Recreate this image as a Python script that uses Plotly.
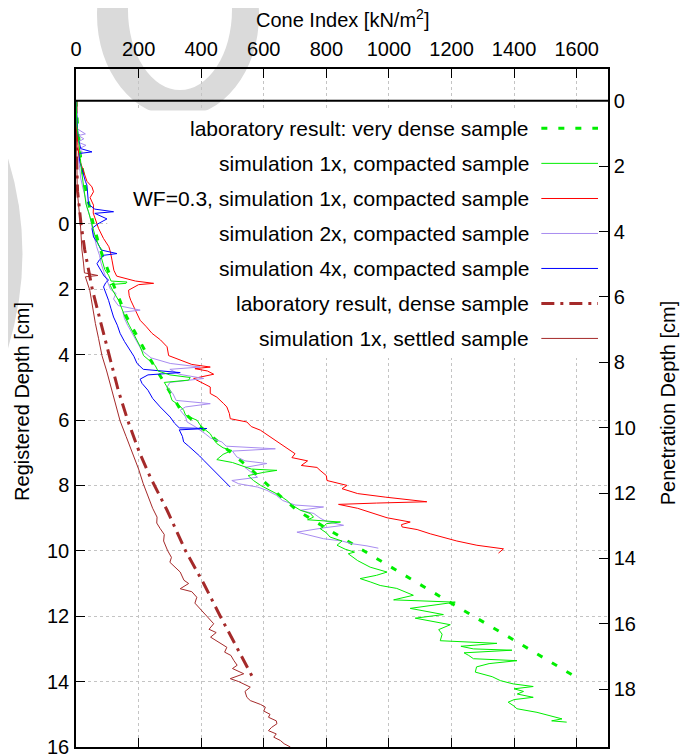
import plotly.graph_objects as go

# ---------------- data (registered depth [cm], cone index [kN/m2]) ----------------
LAB_VDENSE_DEPTH = [-3.77, -3.0, -2.0, -1.0, 0.0, 0.8, 1.8, 2.85, 3.87, 4.88, 5.7, 6.31, 6.93,
                    7.54, 8.15, 8.76, 9.37, 9.89, 10.4, 11.52, 12.54, 13.94]
LAB_VDENSE_CI = [0, 5, 15, 32, 55, 78, 117, 162, 220, 282, 335, 410, 487,
                 563, 631, 706, 810, 900, 990, 1185, 1366, 1611]

SIM1X_DEPTH = [-3.77, -3.4, -3.0, -2.6, -2.3, -2.0, -1.6, -1.3, -0.9, -0.6, -0.37, -0.1, 0.14, 0.4,
               0.65, 0.8, 1.0, 1.22, 1.4, 1.57, 1.75, 1.78, 1.82, 1.86, 2.05, 2.34, 2.6, 2.85, 3.1,
               3.46, 3.75, 4.03, 4.2, 4.33, 4.5, 4.62, 4.7, 4.78, 4.85, 4.99, 5.2, 5.4, 5.55, 5.7,
               5.85, 6.01, 6.2, 6.42, 6.6, 6.72, 6.85, 6.93, 7.05, 7.21, 7.3, 7.39, 7.5, 7.54, 7.6,
               7.7, 7.85, 8.0, 8.15, 8.3, 8.46, 8.6, 8.76, 8.86, 8.97, 9.05, 9.12, 9.17, 9.27, 9.32,
               9.45, 9.58, 9.7, 9.83, 9.95, 10.04, 10.09, 10.3, 10.5, 10.65, 10.75, 10.85, 10.95,
               11.06, 11.15, 11.36, 11.5, 11.57, 11.76, 11.85, 11.95, 12.06, 12.15, 12.26, 12.41,
               12.55, 12.75, 12.83, 12.92, 13.0, 13.04, 13.12, 13.2, 13.3, 13.36, 13.45, 13.55,
               13.71, 13.85, 13.97, 14.07, 14.15, 14.22, 14.3, 14.38, 14.48, 14.55, 14.63, 14.75,
               14.83, 14.94, 15.04, 15.14, 15.2, 15.24]
SIM1X_CI = [0, 1, 3, 8, 12, 14, 18, 22, 26, 32, 40, 48, 56, 62,
            72, 83, 80, 88, 92, 104, 112, 163, 160, 108, 118, 136, 146, 157, 170,
            189, 205, 216, 238, 253, 262, 300, 365, 360, 282, 291, 300, 307, 330, 344,
            350, 387, 400, 429, 440, 450, 470, 498, 470, 450, 500, 525, 560, 642, 600,
            550, 567, 590, 621, 650, 674, 690, 717, 749, 759, 740, 845, 800, 791, 780,
            800, 812, 850, 834, 860, 890, 870, 900, 940, 994, 960, 908, 940,
            972, 1025, 1078, 1015, 1212, 1068, 1120, 1174, 1084, 1130, 1196, 1159,
            1170, 1164, 1345, 1230, 1270, 1393, 1240, 1255, 1270, 1409, 1320, 1280,
            1276, 1330, 1356, 1397, 1461, 1400, 1430, 1410, 1461, 1400, 1381, 1400,
            1409, 1473, 1510, 1553, 1520, 1568]

WF03_DEPTH = [-3.77, -3.2, -2.8, -2.4, -2.0, -1.6, -1.3, -1.13, -0.98, -0.8, -0.57, -0.33, -0.17,
              0.0, 0.14, 0.45, 0.7, 0.86, 1.11, 1.42, 1.6, 1.75, 1.82, 1.86, 2.03, 2.2, 2.34, 2.64,
              2.95, 3.15, 3.35, 3.55, 3.76, 4.03, 4.17, 4.3, 4.38, 4.43, 4.5, 4.6, 4.73, 4.85, 4.99,
              5.19, 5.3, 5.5, 5.6, 5.8, 5.96, 6.06, 6.2, 6.31, 6.52, 6.77, 6.9, 7.03, 7.15, 7.25,
              7.39, 7.45, 7.54, 7.7, 7.85, 8.0, 8.1, 8.25, 8.36, 8.45, 8.5, 8.54, 8.58, 8.7, 8.76,
              8.85, 8.99, 9.12, 9.2, 9.27, 9.35, 9.48, 9.63, 9.7, 9.83, 9.94, 10.07]
WF03_CI = [0, 2, 5, 6, 10, 24, 35, 51, 56, 45, 56, 55, 62,
           67, 72, 88, 105, 110, 115, 121, 130, 190, 248, 200, 168, 170, 175, 189,
           205, 225, 243, 270, 291, 296, 333, 370, 429, 380, 420, 440, 376, 400, 429,
           429, 450, 472, 482, 490, 493, 546, 560, 589, 621, 658, 680, 700, 690, 740,
           720, 770, 780, 800, 802, 866, 850, 900, 990, 1080, 1121, 960, 839, 900, 919,
           950, 994, 1068, 1040, 1042, 1090, 1132, 1185, 1217, 1281, 1366, 1350]

SIM2X_DEPTH = [-3.77, -3.2, -2.9, -2.75, -2.7, -2.6, -2.5, -2.4, -2.3, -2.2, -2.0, -1.7, -1.4,
               -1.1, -0.8, -0.5, -0.2, 0.14, 0.4, 0.7, 0.96, 1.2, 1.5, 1.75, 2.0, 2.13, 2.3, 2.5,
               2.64, 2.7, 2.9, 3.1, 3.35, 3.6, 3.87, 4.1, 4.27, 4.38, 4.45, 4.6, 4.73, 4.85, 5.0,
               5.2, 5.4, 5.5, 5.6, 5.7, 5.9, 6.06, 6.2, 6.42, 6.55, 6.67, 6.8, 6.88, 6.95, 7.13,
               7.25, 7.33, 7.45, 7.6, 7.75, 7.85, 7.95, 8.05, 8.15, 8.3, 8.46, 8.6, 8.66, 8.76,
               8.86, 9.0, 9.1, 9.22, 9.3, 9.43, 9.55, 9.63, 9.7, 9.78, 9.85, 9.92]
SIM2X_CI = [0, 2, 5, 30, 8, 25, 6, 32, 10, 20, 8, 12, 15,
            22, 30, 35, 45, 52, 58, 66, 75, 80, 90, 100, 110, 128, 120, 135,
            205, 150, 155, 165, 180, 195, 210, 240, 301, 397, 300, 330, 408, 300, 291,
            310, 320, 429, 350, 333, 350, 355, 380, 413, 430, 466, 480, 637, 500, 514,
            540, 610, 540, 560, 580, 498, 520, 580, 610, 640, 660, 700, 791, 717,
            760, 780, 800, 855, 790, 706, 760, 791, 850, 880, 930, 966]

SIM4X_DEPTH = [-3.77, -3.3, -2.9, -2.6, -2.3, -2.2, -2.15, -1.9, -1.6, -1.3, -1.18, -0.9, -0.6,
               -0.45, -0.37, -0.32, -0.15, 0.0, 0.14, 0.4, 0.6, 0.8, 0.91, 0.96, 1.1, 1.22, 1.42,
               1.6, 1.72, 1.8, 1.93, 2.1, 2.34, 2.6, 2.85, 3.1, 3.35, 3.6, 3.87, 4.05, 4.27, 4.45,
               4.55, 4.62, 4.75, 4.88, 5.09, 5.34, 5.6, 5.75, 5.91, 6.1, 6.24, 6.26, 6.3, 6.5, 6.67,
               6.8, 6.93, 7.1, 7.23, 7.4, 7.54, 7.65, 7.74, 7.85, 7.95, 8.05]
SIM4X_CI = [0, 2, 5, 8, 15, 51, 10, 12, 20, 30, 35, 38, 40,
            60, 120, 60, 99, 70, 51, 56, 70, 80, 131, 90, 75, 67, 80,
            90, 104, 95, 88, 95, 104, 112, 120, 132, 141, 155, 173, 185, 195, 215,
            333, 230, 205, 211, 230, 245, 269, 285, 301, 315, 330, 418, 330, 340, 344,
            360, 376, 395, 408, 425, 440, 450, 461, 470, 482, 493]

LAB_DENSE_DEPTH = [-3.77, -3.0, -2.0, -1.0, 0.0, 0.8, 2.0, 3.05, 4.03, 5.09, 6.03, 7.0, 7.74,
                   8.76, 10.0, 11.0, 12.0, 13.05, 13.97]
LAB_DENSE_CI = [0, 0.5, 2, 5, 16, 28, 52, 80, 106, 135, 166, 203, 237,
                291, 350, 408, 461, 520, 570]

SETTLED_DEPTH = [-3.77, -3.0, -2.0, -1.0, 0.0, 0.8, 1.2, 1.5, 1.58, 1.62, 2.03, 2.5, 3.05, 3.5,
                 4.03, 4.5, 5.09, 5.5, 6.03, 6.5, 7.0, 7.5, 7.95, 8.46, 8.7, 8.97, 9.15, 9.32,
                 9.5, 9.7, 10.0, 10.2, 10.35, 10.65, 10.9, 11.0, 11.16, 11.25, 11.42, 11.6,
                 11.82, 12.0, 12.23, 12.4, 12.5, 12.64, 12.8, 12.95, 13.1, 13.2, 13.35, 13.5,
                 13.6, 13.76, 13.91, 14.0, 14.17, 14.3, 14.48, 14.58, 14.7, 14.78, 14.9, 15.0,
                 15.09, 15.2, 15.29, 15.4, 15.5, 15.6, 15.7, 15.8, 15.9, 16.0]
SETTLED_CI = [0, 0.5, 2, 4, 14, 19, 24, 27, 70, 30, 44, 52, 62, 72,
              83, 98, 115, 125, 141, 160, 180, 200, 215, 235, 245, 259, 258, 269,
              282, 280, 293, 305, 300, 333, 345, 360, 333, 370, 386, 380,
              402, 420, 440, 425, 448, 430, 455, 482, 475, 495, 504, 515,
              500, 536, 493, 520, 557, 540, 546, 557, 590, 605, 600, 620,
              615, 640, 642, 625, 615, 640, 632, 653, 665, 685]

X_TICKS = [0, 200, 400, 600, 800, 1000, 1200, 1400, 1600]
REG_TICKS = [0, 2, 4, 6, 8, 10, 12, 14, 16]
PEN_TICKS = [0, 2, 4, 6, 8, 10, 12, 14, 16, 18]
X_RANGE = [0, 1700]
DEPTH_OFFSET = 3.765           # penetration depth - registered depth
REG_RANGE = [16, -4.735]
PEN_RANGE = [REG_RANGE[0] + DEPTH_OFFSET, REG_RANGE[1] + DEPTH_OFFSET]

LEGEND_LABELS = ["laboratory result: very dense sample",
                 "simulation 1x, compacted sample",
                 "WF=0.3, simulation 1x, compacted sample",
                 "simulation 2x, compacted sample",
                 "simulation 4x, compacted sample",
                 "laboratory result, dense sample",
                 "simulation 1x, settled sample"]

GREEN = "#00ee00"
RED = "#ff0000"
PURPLE = "#a88cf0"
BLUE = "#0000ff"
BROWN = "#a52a2a"
FONT = "Liberation Sans, Arial, sans-serif"

series = [
    (LAB_VDENSE_DEPTH, LAB_VDENSE_CI, dict(color=GREEN, width=3, dash="6px,11px")),
    (SETTLED_DEPTH, SETTLED_CI, dict(color=BROWN, width=1)),
    (LAB_DENSE_DEPTH, LAB_DENSE_CI, dict(color=BROWN, width=3, dash="13px,6px,3px,6px")),
    (WF03_DEPTH, WF03_CI, dict(color=RED, width=1)),
    (SIM2X_DEPTH, SIM2X_CI, dict(color=PURPLE, width=1)),
    (SIM4X_DEPTH, SIM4X_CI, dict(color=BLUE, width=1)),
    (SIM1X_DEPTH, SIM1X_CI, dict(color=GREEN, width=1)),
]
legend_styles = [
    dict(color=GREEN, width=3, dash="6px,11px"),
    dict(color=GREEN, width=1),
    dict(color=RED, width=1),
    dict(color=PURPLE, width=1),
    dict(color=BLUE, width=1),
    dict(color=BROWN, width=3, dash="13px,6px,3px,6px"),
    dict(color=BROWN, width=1),
]

fig = go.Figure()
for d, v, ln in series:
    fig.add_trace(go.Scatter(x=v, y=d, mode="lines", line=ln, yaxis="y",
                             showlegend=False, hoverinfo="skip"))

# penetration depth zero line (on the right axis)
fig.add_trace(go.Scatter(x=X_RANGE, y=[0, 0], mode="lines", yaxis="y2",
                         line=dict(color="black", width=2), showlegend=False, hoverinfo="skip"))

shapes = []
# watermark fragments (light grey)
shapes.append(dict(type="circle", xref="paper", yref="paper", layer="below",
                   x0=0.0395, x1=0.344, y0=0.929, y1=1.230,
                   fillcolor="#dadada", line=dict(width=0)))
shapes.append(dict(type="circle", xref="paper", yref="paper", layer="below",
                   x0=0.0977, x1=0.2932, y0=0.969, y1=1.205,
                   fillcolor="white", line=dict(width=0)))
shapes.append(dict(type="path", xref="paper", yref="paper", layer="below",
                   path="M -0.1429,0.9027 Q -0.0583,0.7286 -0.1429,0.5531 Z",
                   fillcolor="#dadada", line=dict(width=0)))
# opaque key box (hides grid, under data)
shapes.append(dict(type="rect", xref="x", yref="y", layer="between",
                   x0=100, x1=X_RANGE[1], y0=-3.765 + 0.3, y1=4.1,
                   fillcolor="white", line=dict(width=0)))

annotations = []
row_pen = [0.845, 1.916, 2.99, 4.06, 5.13, 6.2, 7.27]
for lab, st, yp in zip(LEGEND_LABELS, legend_styles, row_pen):
    annotations.append(dict(text=lab, xref="paper", yref="y2", x=0.855, y=yp,
                            xanchor="right", yanchor="middle", showarrow=False,
                            font=dict(family=FONT, size=21, color="black")))
    shapes.append(dict(type="line", xref="x", yref="y2", x0=1487, x1=1668, y0=yp, y1=yp,
                       line=st, layer="above"))

annotations.append(dict(text="Cone Index [kN/m<sup>2</sup>]", xref="paper", yref="paper",
                        x=0.5, y=1.0752, xanchor="center", yanchor="middle", showarrow=False,
                        font=dict(family=FONT, size=20, color="black")))
annotations.append(dict(text="Registered Depth [cm]", xref="paper", yref="paper",
                        x=-0.1015, y=0.509, xanchor="center", yanchor="middle", showarrow=False,
                        textangle=-90, font=dict(family=FONT, size=20, color="black")))
annotations.append(dict(text="Penetration Depth [cm]", xref="paper", yref="paper",
                        x=1.1128, y=0.507, xanchor="center", yanchor="middle", showarrow=False,
                        textangle=-90, font=dict(family=FONT, size=20, color="black")))

grid = dict(showgrid=True, gridcolor="#c4c4c4", griddash="dot", gridwidth=1)
common = dict(ticks="inside", ticklen=9, tickcolor="black", showline=True, linecolor="black",
              linewidth=1.5, zeroline=False, automargin=False, ticklabeloverflow="allow",
              tickfont=dict(family=FONT, size=20, color="black"))
# the page body adds an 8px offset, so the figure is 8px smaller and margins shifted
fig.update_layout(
    width=683, height=746,
    margin=dict(l=68, r=83, t=61, b=7, autoexpand=False),
    plot_bgcolor="white", paper_bgcolor="white",
    showlegend=False,
    font=dict(family=FONT, size=20, color="black"),
    xaxis=dict(side="top", range=X_RANGE, tickvals=X_TICKS, mirror="ticks",
               ticklabelstandoff=3, **grid, **common),
    yaxis=dict(range=REG_RANGE, tickvals=REG_TICKS, mirror=False,
               ticklabelstandoff=1, **grid, **common),
    yaxis2=dict(range=PEN_RANGE, tickvals=PEN_TICKS, overlaying="y", side="right",
                showgrid=False, ticklabelstandoff=0, **common),
    shapes=shapes,
    annotations=annotations,
)

fig.write_html("out.html")
